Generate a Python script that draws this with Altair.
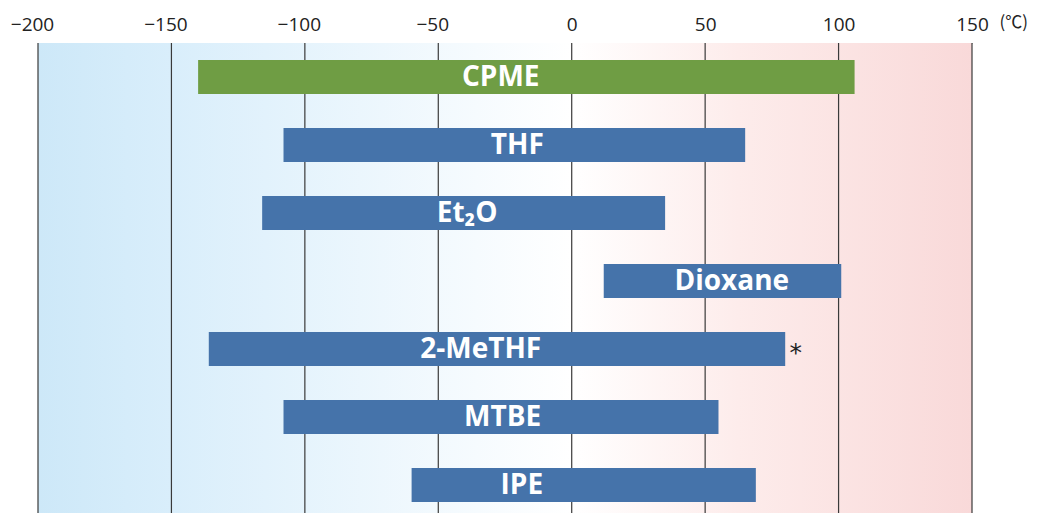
import altair as alt
import pandas as pd

solvents = ["CPME", "THF", "Et₂O", "Dioxane", "2-MeTHF", "MTBE", "IPE"]
melting = [-140, -108, -116, 12, -136, -108, -60]
boiling = [106, 65, 35, 101, 80, 55, 69]
label_x = [-26.6, -20.4, -39.2, 60, -34.1, -25.9, -18.7]
bar_colors = ["#6f9d44", "#4573aa", "#4573aa", "#4573aa", "#4573aa", "#4573aa", "#4573aa"]
ticks = [-200, -150, -100, -50, 0, 50, 100, 150]
note_solvent = "2-MeTHF"
note_x = 84
unit_label = "(℃)"
unit_x = 171

df = pd.DataFrame({"solvent": solvents, "mp": melting, "bp": boiling,
                   "lx": label_x, "color": bar_colors})

W, H = 934, 476
xscale = alt.Scale(domain=[-200, 150], nice=False, zero=False)
yscale = alt.Scale(domain=solvents, paddingInner=0.5, paddingOuter=0.25)

bg = alt.Chart(pd.DataFrame({"a": [-200], "b": [150]})).mark_rect(
    fill=alt.Gradient(
        gradient="linear",
        stops=[
            alt.GradientStop(color="#cde8f8", offset=0),
            alt.GradientStop(color="#d9eefb", offset=0.143),
            alt.GradientStop(color="#ffffff", offset=0.571),
            alt.GradientStop(color="#fdeceb", offset=0.75),
            alt.GradientStop(color="#f9d9d9", offset=1),
        ],
        x1=0, x2=1, y1=0, y2=0,
    )
).encode(
    x=alt.X("a:Q", scale=xscale, axis=alt.Axis(
        orient="top", values=ticks, title=None, ticks=False,
        labelFont="Open Sans", labelFontSize=19, labelColor="#222",
        labelPadding=9, labelFlush=False, labelOverlap=False,
        domain=True, domainColor="#888", domainWidth=1, grid=False,
        labelOffset={"condition": {"test": "datum.value < 0", "value": -6}, "value": 0},
    )),
    x2="b:Q",
    y=alt.value(0), y2=alt.value(H),
)

grid = alt.Chart(pd.DataFrame({"t": ticks})).mark_rule(
    color="#3a3a3a", strokeWidth=1.2
).encode(
    x=alt.X("t:Q", scale=xscale),
    y=alt.value(0), y2=alt.value(H),
)

bars = alt.Chart(df).mark_bar(cornerRadius=0).encode(
    x=alt.X("mp:Q", scale=xscale),
    x2="bp:Q",
    y=alt.Y("solvent:N", scale=yscale, axis=None, sort=solvents),
    color=alt.Color("color:N", scale=None, legend=None),
)

labels = alt.Chart(df).mark_text(
    font="Open Sans", fontWeight="bold", fontSize=28, color="white",
    align="center", baseline="middle", dy=1,
).encode(
    x=alt.X("lx:Q", scale=xscale),
    y=alt.Y("solvent:N", scale=yscale, sort=solvents),
    text="solvent:N",
)

note = alt.Chart(pd.DataFrame({"s": [note_solvent], "x": [note_x], "t": ["*"]})).mark_text(
    font="DejaVu Sans", fontWeight="normal", fontSize=25, color="#222",
    align="center", baseline="middle", dy=4,
).encode(
    x=alt.X("x:Q", scale=xscale),
    y=alt.Y("s:N", scale=yscale, sort=solvents),
    text="t:N",
)

unit = alt.Chart(pd.DataFrame({"x": [unit_x], "t": [unit_label]})).mark_text(
    font="Noto Sans CJK JP", fontSize=17, color="#222", align="right", baseline="middle",
).encode(
    x=alt.X("x:Q", scale=xscale),
    y=alt.value(-20),
    text="t:N",
)

chart = alt.layer(bg, grid, bars, labels, note, unit).properties(
    width=W, height=H,
    autosize=alt.AutoSizeParams(type="none"),
    padding={"left": 30, "top": 35, "right": 59, "bottom": 0},
).configure_view(stroke=None)

chart.save("out.html", embed_options={"renderer": "svg", "actions": False})
